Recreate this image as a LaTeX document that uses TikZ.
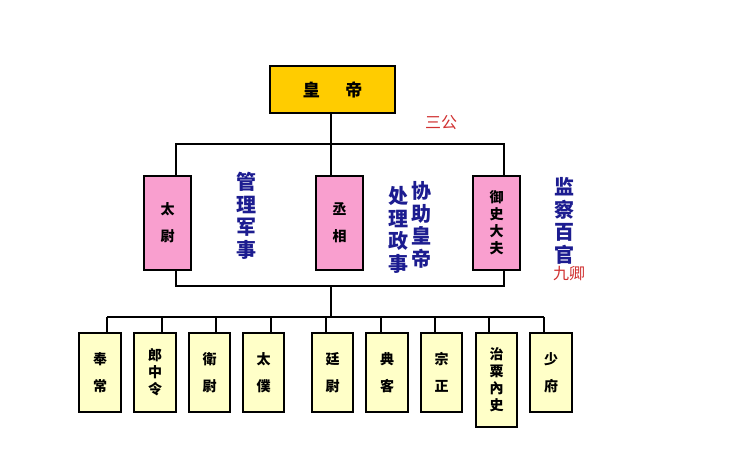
\documentclass[tikz,border=0pt]{standalone}
\usepackage{fontspec}
\setmainfont{Noto Sans CJK SC}
\definecolor{gold}{HTML}{FFCC00}
\definecolor{pinkb}{HTML}{F99FCF}
\definecolor{paley}{HTML}{FFFFC8}
\definecolor{navyt}{HTML}{1C1C90}
\definecolor{redt}{HTML}{D03030}
\begin{document}
\begin{tikzpicture}[x=1pt,y=-1pt,
  box/.style={draw=black,line width=1.2pt,inner sep=0pt,font=\fontsize{14}{17}\selectfont\bfseries,align=center},
  emp/.style={box,fill=gold,font=\fontsize{17}{20}\selectfont\bfseries},
  san/.style={box,fill=pinkb},
  qing/.style={box,fill=paley},
  note/.style={text=navyt,font=\fontsize{20}{22.5}\selectfont\bfseries,align=center,inner sep=0pt},
  rnote/.style={text=redt,font=\fontsize{16}{18}\selectfont,inner sep=0pt},
  ln/.style={line width=1.2pt}]
\useasboundingbox (0,0) rectangle (738,469);
\node[emp,minimum width=125pt,minimum height=47pt] (di) at (332.5,89.5) {皇\hspace{1.5em}帝};
\node[san,minimum width=47pt,minimum height=94pt] (tw) at (167.5,223) {太\\[10pt]尉};
\node[san,minimum width=47pt,minimum height=94pt] (cx) at (339.5,223) {丞\\[10pt]相};
\node[san,minimum width=47pt,minimum height=94pt] (ys) at (496.5,223) {御\\史\\大\\夫};
\coordinate (t1) at (176,144); \coordinate (t2) at (504,144); \coordinate (tm) at (331,144);
\coordinate (b1) at (176,286); \coordinate (b2) at (504,286); \coordinate (bm) at (331,286);
\draw[ln] (di.south -| tm) -- (tm);
\draw[ln] (tw.north -| t1) -- (t1) -- (t2) -- (ys.north -| t2);
\draw[ln] (tm) -- (cx.north -| tm);
\draw[ln] (tw.south -| b1) -- (b1) -- (b2) -- (ys.south -| b2);
\node[rnote] (sg) at (441,123) {三公};
\node[rnote] (jq) at (569,274) {九卿};
\node[note] (n1) at (246,216) {管\\理\\军\\事};
\node[note] (n2) at (398,230) {处\\理\\政\\事};
\node[note] (n3) at (421,225) {协\\助\\皇\\帝};
\node[note] (n4) at (564,221) {监\\察\\百\\官};
\coordinate (hm) at (331,317);
\draw[ln] (bm) -- (hm);
\foreach \n/\lx in {a/107,k/544}{\coordinate (c\n) at (\lx,317);}
\foreach \n/\l/\r/\lx/\t/\bt in {a/79/121/107/{奉\\[10pt]常}/412,b/134/176/162/{郎\\中\\令}/412,c/189/230/216/{衛\\[10pt]尉}/412,d/243/284/271/{太\\[10pt]僕}/412,e/312/353/326/{廷\\[10pt]尉}/412,f/366/408/381/{典\\[10pt]客}/412,g/421/462/435/{宗\\[10pt]正}/412,h/476/517/489/{治\\粟\\內\\史}/427,k/530/572/544/{少\\[10pt]府}/412}{
  \coordinate (c\n) at (\lx,317);
  \node[qing,minimum width=\r pt-\l pt,minimum height=\bt pt-333pt] (q\n) at ({(\l+\r)/2},{(333+\bt)/2}) {\t};
  \draw[ln] (c\n) -- (q\n.north -| c\n);
}
\draw[ln] (ca) -- (ck);
\end{tikzpicture}
\end{document}
